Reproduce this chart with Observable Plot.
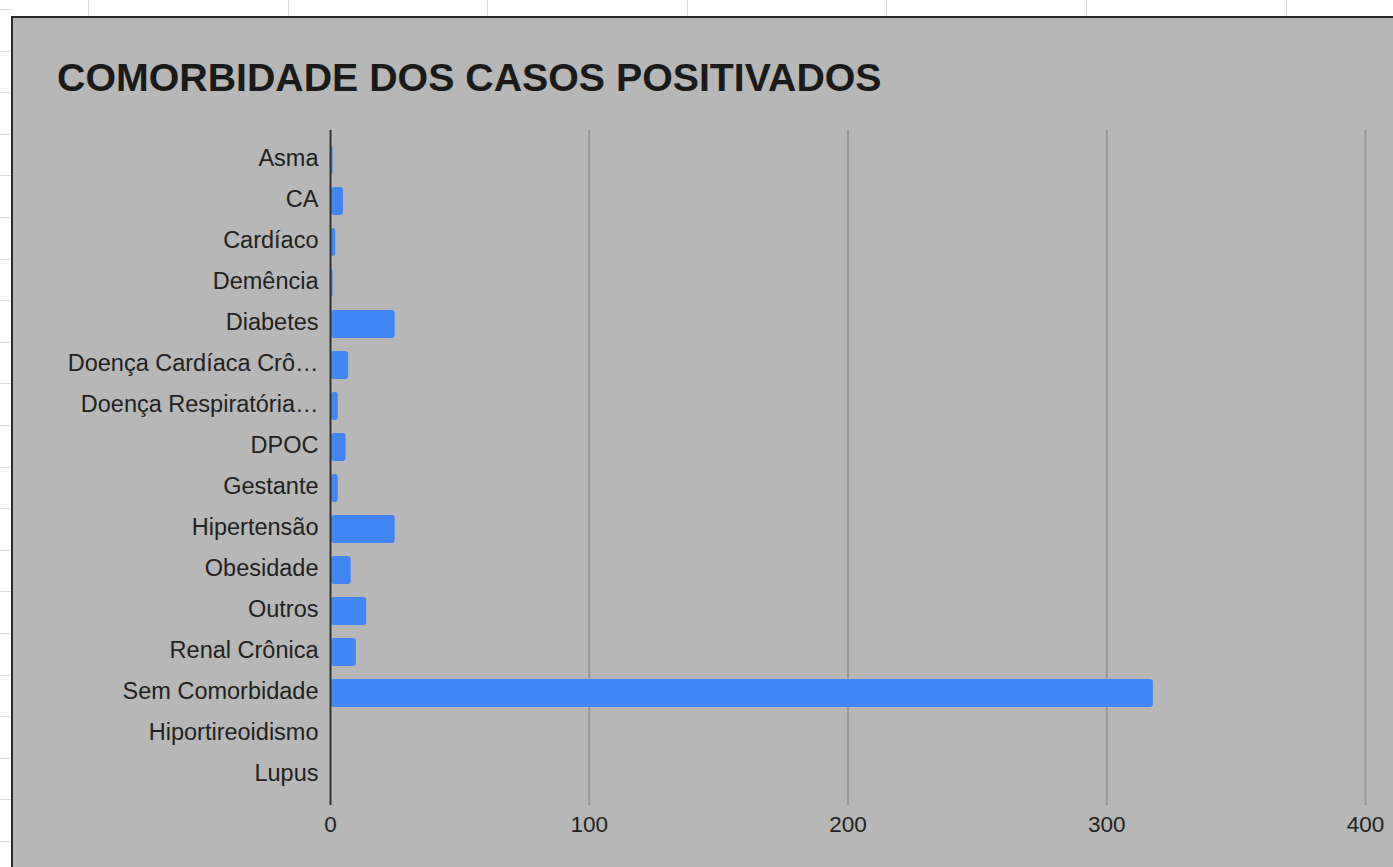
<!DOCTYPE html>
<html>
<head>
<meta charset="utf-8">
<script src="https://cdn.jsdelivr.net/npm/d3@7"></script>
<script src="https://cdn.jsdelivr.net/npm/@observablehq/plot@0.6"></script>
<style>
  html, body { margin: 0; padding: 0; width: 1393px; height: 867px; overflow: hidden; background: #fff; }
  #sheetTop { position: absolute; left: 0; top: 0; width: 1393px; height: 17px;
    background: repeating-linear-gradient(to right, transparent 0 88px, #dcdcdc 88px 89px, transparent 89px 199.6px); }
  #sheetLeft { position: absolute; left: 0; top: 0; width: 12px; height: 867px;
    background: repeating-linear-gradient(to bottom, transparent 0 9px, #dcdcdc 9px 10px, transparent 10px 41.6px); }
  #panel { position: absolute; left: 11px; top: 16px; width: 1400px; height: 900px;
    background: #b7b7b7; border-top: 2px solid #2a2a2a; border-left: 2px solid #2a2a2a; }
  #title { position: absolute; left: 57px; top: 58px; font-family: "Liberation Sans", Arial, sans-serif;
    font-weight: bold; font-size: 39.3px; line-height: 39px; color: #1a1a1a; white-space: nowrap; }
  #chart { position: absolute; left: 0; top: 0; }
</style>
</head>
<body>
<div id="sheetTop"></div>
<div id="sheetLeft"></div>
<div id="panel"></div>
<div id="title">COMORBIDADE DOS CASOS POSITIVADOS</div>
<div id="chart"></div>
<script>
const categories = [
  "Asma", "CA", "Cardíaco", "Demência", "Diabetes",
  "Doença Cardíaca Crô…", "Doença Respiratória…", "DPOC", "Gestante",
  "Hipertensão", "Obesidade", "Outros", "Renal Crônica",
  "Sem Comorbidade", "Hiportireoidismo", "Lupus"
];
const values = [1, 5, 2, 1, 25, 7, 3, 6, 3, 25, 8, 14, 10, 318, 0, 0];
const xTicks = [0, 100, 200, 300, 400];

const data = categories.map((c, i) => ({category: c, value: values[i]}));

const chart = Plot.plot({
  width: 1393,
  height: 867,
  marginLeft: 330,
  marginRight: 28,
  marginTop: 130,
  marginBottom: 62,
  style: {
    background: "transparent",
    fontFamily: "'Liberation Sans', Arial, sans-serif",
    fontSize: "22px",
    color: "#222"
  },
  x: {domain: [0, 400], ticks: xTicks, label: null},
  y: {domain: categories, paddingInner: 0.32, paddingOuter: 0.3, label: null},
  marks: [
    Plot.ruleX(xTicks.filter(d => d > 0), {stroke: "#979797", strokeWidth: 2}),
    Plot.barX(data, {x: "value", y: "category", fill: "#4285f4", rx: 3, insetLeft: 1}),
    Plot.ruleX([0], {stroke: "#333", strokeWidth: 2}),
    Plot.axisX({ticks: xTicks, tickSize: 0, tickPadding: 11, fontSize: 22.5, fill: "#222", label: null}),
    Plot.axisY({tickSize: 0, tickPadding: 12, fontSize: 23.5, dy: -2, fill: "#222", label: null})
  ]
});
document.getElementById("chart").appendChild(chart);
</script>
</body>
</html>
